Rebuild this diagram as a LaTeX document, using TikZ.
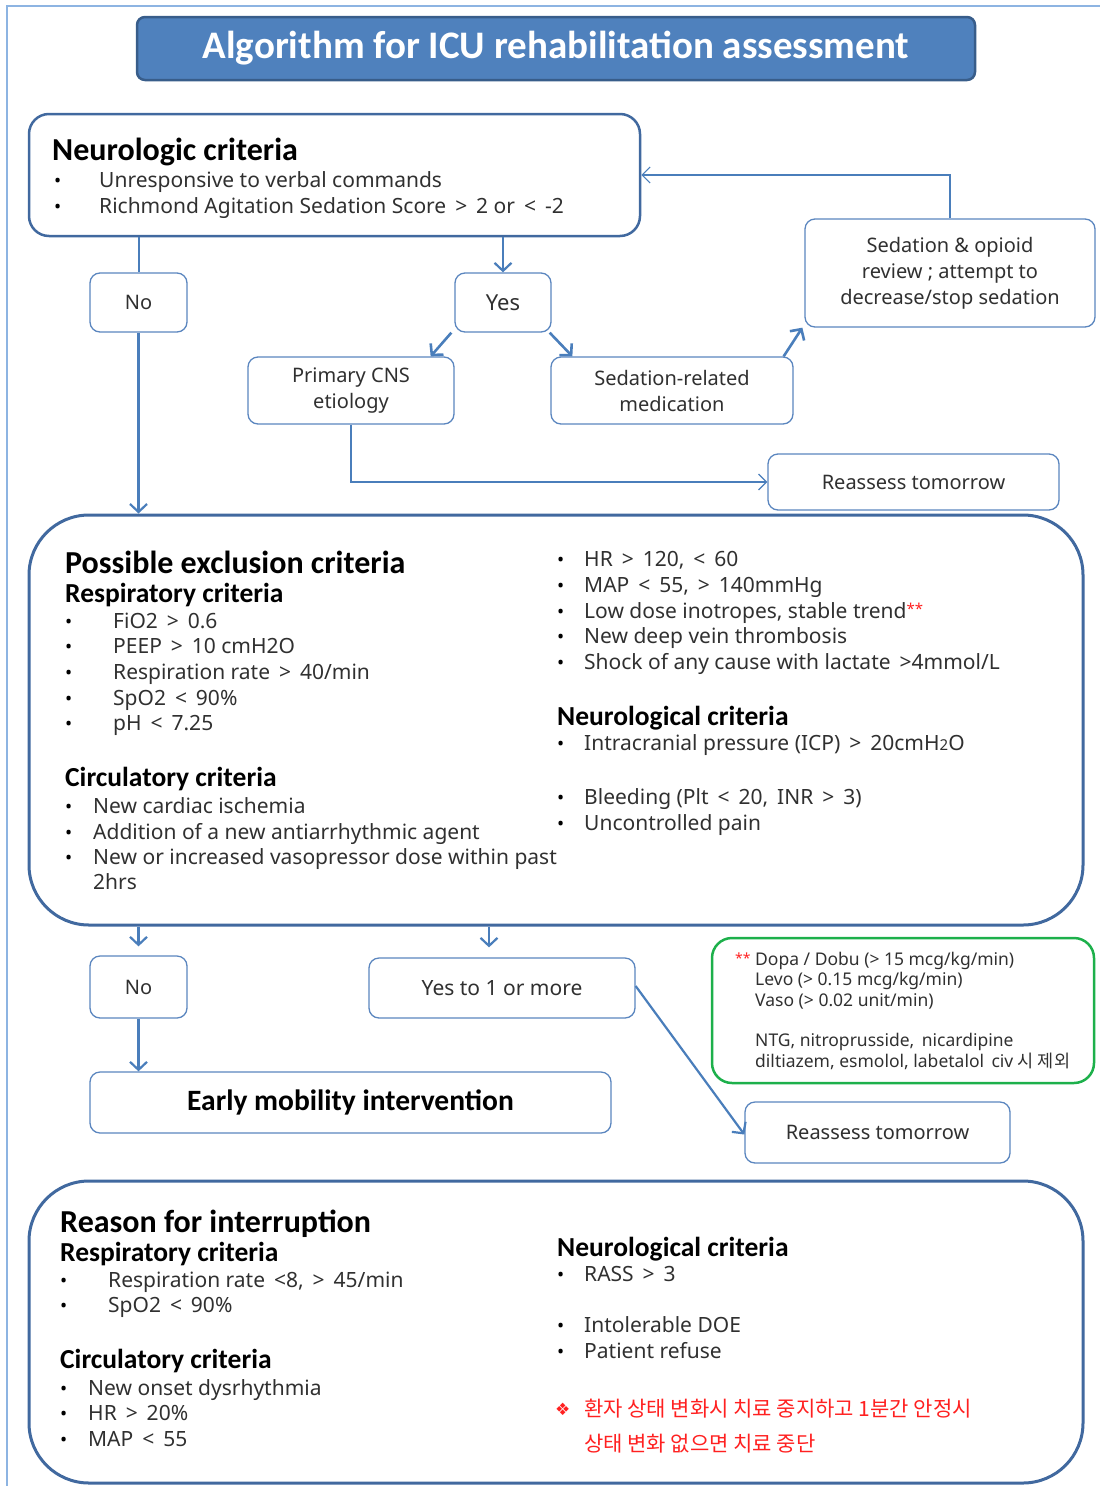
\documentclass[tikz,border=0pt]{standalone}
\usepackage{fontspec}
\setmainfont{Noto Sans}
\newfontfamily\krfont{Noto Sans CJK KR}
\newfontfamily\headfont{Carlito}
\newfontfamily\symfont{DejaVu Sans}
\usetikzlibrary{arrows.meta,calc}
\definecolor{frameblue}{HTML}{8DB4E2}
\definecolor{titleblue}{HTML}{4F81BD}
\definecolor{darkblue}{HTML}{385D8A}
\definecolor{boxblue}{HTML}{5B86BF}
\definecolor{bigblue}{HTML}{41699F}
\definecolor{arrowblue}{HTML}{4A7EBB}
\definecolor{txt}{HTML}{303030}
\definecolor{grn}{HTML}{1DB04B}
\definecolor{redt}{HTML}{FF2020}
\begin{document}
\begin{tikzpicture}[x=1pt,y=-1pt,
  flow/.style={draw=arrowblue, line width=2.2pt, -{Straight Barb[length=8pt,width=17pt]}},
  thinflow/.style={draw=arrowblue, line width=1.2pt, -{Straight Barb[length=8pt,width=16pt]}},
  plainline/.style={draw=arrowblue, line width=2pt},
  smallbox/.style={draw=boxblue, line width=1.3pt, rounded corners=10pt, fill=white, inner sep=0pt, align=center, text=txt, font=\fontsize{20}{26}\selectfont},
  bigbox/.style={draw=bigblue, line width=3pt, rounded corners=60pt, inner sep=0pt},
  tx/.style={anchor=base west, inner sep=0pt, text=txt, font=\fontsize{21}{24}\selectfont},
  hd/.style={anchor=base west, inner sep=0pt, text=black, font=\headfont\bfseries\fontsize{27.5}{30}\selectfont},
  hbig/.style={anchor=base west, inner sep=0pt, text=black, font=\headfont\bfseries\fontsize{32}{36}\selectfont},
  bul/.style={anchor=base west, inner sep=0pt, text=black, font=\fontsize{19}{20}\selectfont},
  gtx/.style={anchor=base west, inner sep=0pt, text=txt, font=\fontsize{17.5}{20}\selectfont},
]
\useasboundingbox (0,0) rectangle (1100,1486);
% frame
\draw[frameblue, line width=1.5pt] (7,1486) -- (7,6) -- (1100,6);

% title
\node[draw=darkblue, line width=2.5pt, fill=titleblue, rounded corners=8pt,
  minimum width=838, minimum height=63, inner sep=0pt, text=white,
  font=\headfont\bfseries\fontsize{39}{44}\selectfont] (title) at (556,48.5)
  {Algorithm for ICU rehabilitation assessment};

% neurologic criteria box
\node[draw=bigblue, line width=2.5pt, rounded corners=20pt, minimum width=611, minimum height=122, inner sep=0pt] (neuro) at (334.5,175) {};
\node[hd, font=\headfont\bfseries\fontsize{32}{36}\selectfont] (n0) at (52,160) {Neurologic criteria};
\node[bul] (nb1) at (54,187) {•};
\node[tx] (n1) at (99,187) {Unresponsive to verbal commands};
\node[bul] (nb2) at (54,213) {•};
\node[tx] (n2) at (99,213) {Richmond Agitation Sedation Score \,>\, 2 or \,<\, -2};

% small boxes upper
\node[smallbox, minimum width=97, minimum height=59] (no1) at (138.5,302.5) {No};
\node[smallbox, minimum width=96, minimum height=59, font=\fontsize{22}{26}\selectfont] (yes) at (503,302.5) {Yes};
\node[smallbox, minimum width=206, minimum height=67] (primary) at (351,390.5) {Primary CNS\\etiology};
\node[smallbox, minimum width=242, minimum height=67] (sedrel) at (672,390.5) {Sedation-related\\medication};
\node[smallbox, minimum width=290, minimum height=108] (sedop) at (950,273) {Sedation \& opioid\\review ; attempt to\\decrease/stop sedation};
\node[smallbox, minimum width=291, minimum height=56] (reas1) at (913.5,482) {Reassess tomorrow};

% exclusion box
\node[bigbox, minimum width=1054, minimum height=410] (excl) at (556,720) {};
\node[hbig] (e0) at (65,573) {Possible exclusion criteria};
\node[hd] (e1) at (65,602) {Respiratory criteria};
\node[bul] (eb1) at (65,628) {•}; \node[tx] (e2) at (113,628) {FiO2 \,>\, 0.6};
\node[bul] (eb2) at (65,653) {•}; \node[tx] (e3) at (113,653) {PEEP \,>\, 10 cmH2O};
\node[bul] (eb3) at (65,679) {•}; \node[tx] (e4) at (113,679) {Respiration rate \,>\, 40/min};
\node[bul] (eb4) at (65,705) {•}; \node[tx] (e5) at (113,705) {SpO2 \,<\, 90\%};
\node[bul] (eb5) at (65,730) {•}; \node[tx] (e6) at (113,730) {pH \,<\, 7.25};
\node[hd] (e7) at (65,786) {Circulatory criteria};
\node[bul] (eb6) at (65,813) {•}; \node[tx] (e8) at (93,813) {New cardiac ischemia};
\node[bul] (eb7) at (65,839) {•}; \node[tx] (e9) at (93,839) {Addition of a new antiarrhythmic agent};
\node[bul] (eb8) at (65,864) {•}; \node[tx] (e10) at (93,864) {New or increased vasopressor dose within past};
\node[tx] (e11) at (93,889) {2hrs};
\node[bul] (eb9) at (557,566) {•}; \node[tx] (e12) at (584,566) {HR \,>\, 120, \,<\, 60};
\node[bul] (eb10) at (557,592) {•}; \node[tx] (e13) at (584,592) {MAP \,<\, 55, \,>\, 140mmHg};
\node[bul] (eb11) at (557,618) {•}; \node[tx] (e14) at (584,618) {Low dose inotropes, stable trend\raisebox{4pt}{\textcolor{redt}{\fontsize{15}{15}\selectfont **}}};
\node[bul] (eb12) at (557,643) {•}; \node[tx] (e15) at (584,643) {New deep vein thrombosis};
\node[bul] (eb13) at (557,669) {•}; \node[tx] (e16) at (584,669) {Shock of any cause with lactate \,>4mmol/L};
\node[hd] (e17) at (557,725) {Neurological criteria};
\node[bul] (eb14) at (557,750) {•}; \node[tx] (e18) at (584,750) {Intracranial pressure (ICP) \,>\, 20cmH{\fontsize{15}{15}\selectfont 2}O};
\node[bul] (eb15) at (557,804) {•}; \node[tx] (e19) at (584,804) {Bleeding (Plt \,<\, 20, \,INR \,>\, 3)};
\node[bul] (eb16) at (557,830) {•}; \node[tx] (e20) at (584,830) {Uncontrolled pain};

% lower small boxes
\node[smallbox, minimum width=97, minimum height=62] (no2) at (138.5,987) {No};
\node[smallbox, minimum width=266, minimum height=60, font=\fontsize{21}{26}\selectfont] (yes2) at (502,988) {Yes to 1 or more};
\node[smallbox, minimum width=521, minimum height=61, text=black, font=\headfont\bfseries\fontsize{29.5}{32}\selectfont] (early) at (350.5,1102.5) {Early mobility intervention};
\node[smallbox, minimum width=265, minimum height=61] (reas2) at (877.5,1132.5) {Reassess tomorrow};

% green note
\node[draw=grn, line width=2.5pt, rounded corners=20pt, minimum width=382, minimum height=145, inner sep=0pt] (note) at (903,1010.5) {};
\node[anchor=base west, inner sep=0pt, text=redt, font=\fontsize{14}{14}\selectfont] (g0) at (735,963) {**};
\node[gtx] (g1) at (755,965) {Dopa / Dobu (> 15 mcg/kg/min)};
\node[gtx] (g2) at (755,985) {Levo (> 0.15 mcg/kg/min)};
\node[gtx] (g3) at (755,1006) {Vaso (> 0.02 unit/min)};
\node[gtx] (g4) at (755,1046) {NTG, nitroprusside, \,nicardipine};
\node[gtx] (g5) at (755,1067) {diltiazem, esmolol, labetalol \,civ {\krfont 시 제외}};

% reason box
\node[bigbox, minimum width=1054, minimum height=302] (reason) at (556,1332) {};
\node[hbig] (r0) at (60,1232) {Reason for interruption};
\node[hd] (r1) at (60,1261) {Respiratory criteria};
\node[bul] (rb1) at (60,1287) {•}; \node[tx] (r2) at (108,1287) {Respiration rate \,<8, \,>\, 45/min};
\node[bul] (rb2) at (60,1312) {•}; \node[tx] (r3) at (108,1312) {SpO2 \,<\, 90\%};
\node[hd] (r4) at (60,1368) {Circulatory criteria};
\node[bul] (rb3) at (60,1395) {•}; \node[tx] (r5) at (88,1395) {New onset dysrhythmia};
\node[bul] (rb4) at (60,1420) {•}; \node[tx] (r6) at (88,1420) {HR \,>\, 20\%};
\node[bul] (rb5) at (60,1446) {•}; \node[tx] (r7) at (88,1446) {MAP \,<\, 55};
\node[hd] (r8) at (557,1256) {Neurological criteria};
\node[bul] (rb6) at (557,1281) {•}; \node[tx] (r9) at (584,1281) {RASS \,>\, 3};
\node[bul] (rb7) at (557,1332) {•}; \node[tx] (r10) at (584,1332) {Intolerable DOE};
\node[bul] (rb8) at (557,1358) {•}; \node[tx] (r11) at (584,1358) {Patient refuse};
\node[anchor=base west, inner sep=0pt, text=redt, font=\symfont\fontsize{17}{18}\selectfont] (rsym) at (555,1415) {❖};
\node[anchor=base west, inner sep=0pt, text=redt, font=\krfont\fontsize{21}{24}\selectfont] (rk1) at (584,1416) {환자 상태 변화시 치료 중지하고 1분간 안정시};
\node[anchor=base west, inner sep=0pt, text=redt, font=\krfont\fontsize{21}{24}\selectfont] (rk2) at (584,1451) {상태 변화 없으면 치료 중단};

% connectors
\draw[plainline] (no1.north |- neuro.south) -- (no1.north);
\draw[flow] (no1.south) -- (no1.south |- excl.north);
\draw[flow] (yes.north |- neuro.south) -- (yes.north);
\draw[flow, line width=2.6pt] ([xshift=-3pt]yes.south west) -- ([xshift=-24pt]primary.north east);
\draw[flow, line width=2.6pt] ([xshift=-2pt]yes.south east) -- ([xshift=22pt]sedrel.north west);
\draw[flow, line width=2.6pt] ([xshift=-10pt]sedrel.north east) -- ([xshift=-2pt]sedop.south west);
\draw[thinflow] (sedop.north) |- (neuro.east);
\draw[thinflow] (primary.south) |- (reas1.west);
\draw[flow, shorten >=9pt] (no2.north |- excl.south) -- (no2.north);
\draw[flow, shorten >=10pt] ([xshift=-13pt]yes2.north |- excl.south) -- ([xshift=-13pt]yes2.north);
\draw[flow] (no2.south) -- (no2.south |- early.north);
\draw[flow] ([yshift=2pt]yes2.east) -- ([yshift=-2pt]reas2.west);
\end{tikzpicture}
\end{document}
